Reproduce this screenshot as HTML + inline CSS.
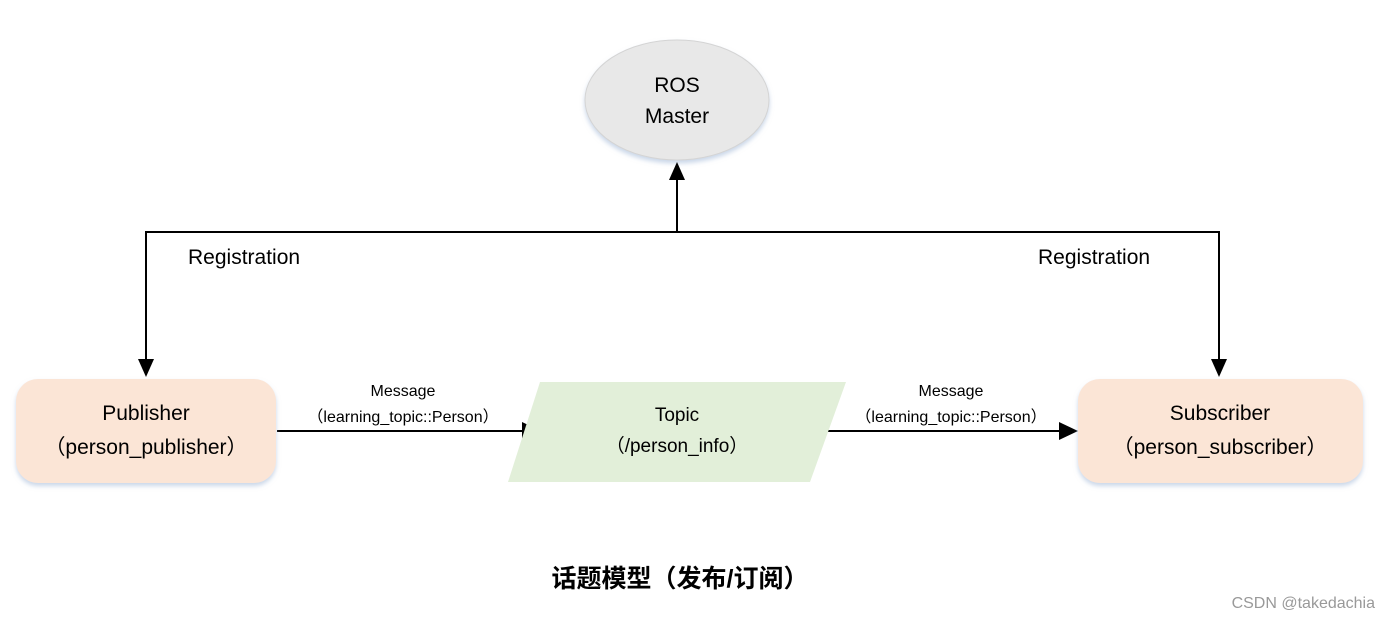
<!DOCTYPE html>
<html><head><meta charset="utf-8"><style>
html,body{margin:0;padding:0;background:#fff;}
svg{display:block;}
text{font-family:"Liberation Sans","Noto Sans CJK SC",sans-serif;fill:#000;}
</style></head><body>
<svg width="1390" height="618" viewBox="0 0 1390 618" xmlns="http://www.w3.org/2000/svg">
<defs>
<filter id="sh" x="-10%" y="-10%" width="120%" height="130%"><feDropShadow dx="0" dy="3" stdDeviation="2.5" flood-color="#9fb6d6" flood-opacity="0.55"/></filter>
</defs>
<!-- ROS Master -->
<ellipse cx="677" cy="100" rx="92" ry="60" fill="#e8e8e8" stroke="#d4d4d4" filter="url(#sh)"/>
<text x="677" y="92" font-size="21" text-anchor="middle">ROS</text>
<text x="677" y="123" font-size="21" text-anchor="middle">Master</text>
<!-- lines -->
<g stroke="#000" stroke-width="2" fill="none">
<line x1="677" y1="232" x2="677" y2="178"/>
<polyline points="146,360 146,232 1219,232 1219,360"/>
<line x1="277" y1="431" x2="524" y2="431"/>
<line x1="812" y1="431" x2="1062" y2="431"/>
</g>
<polygon points="669,180 685,180 677,162" fill="#000"/>
<polygon points="138,359 154,359 146,377" fill="#000"/>
<polygon points="1211,359 1227,359 1219,377" fill="#000"/>
<polygon points="522,422 522,440 541,431" fill="#000"/>
<polygon points="1059,422 1059,440 1078,431" fill="#000"/>
<text x="188" y="264" font-size="21">Registration</text>
<text x="1038" y="264" font-size="21">Registration</text>
<!-- Publisher -->
<rect x="16" y="379" width="260" height="104" rx="22" fill="#fbe5d6" filter="url(#sh)"/>
<text x="146" y="420" font-size="21" text-anchor="middle">Publisher</text>
<text x="146" y="454" font-size="21" text-anchor="middle">（person_publisher）</text>
<!-- Subscriber -->
<rect x="1078" y="379" width="285" height="104" rx="22" fill="#fbe5d6" filter="url(#sh)"/>
<text x="1220" y="420" font-size="21" text-anchor="middle">Subscriber</text>
<text x="1220" y="454" font-size="21" text-anchor="middle">（person_subscriber）</text>
<!-- Topic -->
<polygon points="540,382 846,382 810,482 508,482" fill="#e2efd9"/>
<text x="677" y="421" font-size="19" text-anchor="middle">Topic</text>
<text x="677" y="452" font-size="19" text-anchor="middle">（/person_info）</text>
<!-- message labels -->
<text x="403" y="396" font-size="16" text-anchor="middle">Message</text>
<text x="403" y="422" font-size="16" text-anchor="middle">（learning_topic::Person）</text>
<text x="951" y="396" font-size="16" text-anchor="middle">Message</text>
<text x="951" y="422" font-size="16" text-anchor="middle">（learning_topic::Person）</text>
<!-- title -->
<text x="680" y="587" font-size="25" font-weight="bold" text-anchor="middle">话题模型（发布/订阅）</text>
<text x="1375" y="608" font-size="16" text-anchor="end" style="fill:#999">CSDN @takedachia</text>
</svg>
</body></html>
